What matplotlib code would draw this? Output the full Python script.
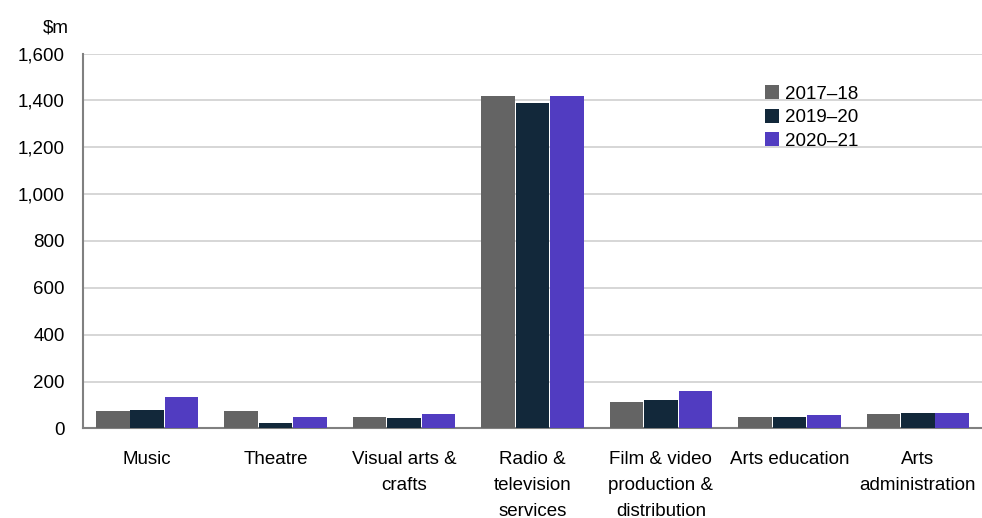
import matplotlib
matplotlib.use("Agg")
import matplotlib.pyplot as plt
from matplotlib.ticker import FuncFormatter
import numpy as np

plt.rcParams['font.family'] = ['Liberation Sans', 'DejaVu Sans']

categories = ["Music", "Theatre", "Visual arts &\ncrafts", "Radio &\ntelevision\nservices",
              "Film & video\nproduction &\ndistribution", "Arts education", "Arts\nadministration"]
series_names = ["2017\u201318", "2019\u201320", "2020\u201321"]
v_2017_18 = [73, 73, 50, 1420, 112, 50, 62]
v_2019_20 = [78, 23, 45, 1390, 122, 50, 68]
v_2020_21 = [133, 50, 62, 1420, 162, 56, 68]
colors = ["#646464", "#12283A", "#513CC1"]

fig = plt.figure(figsize=(9.82, 5.18), dpi=100)
ax = fig.add_axes([0.0845, 0.1728, 0.9155, 0.7239])

x = np.arange(len(categories))
w = 0.262
for i, (vals, name) in enumerate(zip([v_2017_18, v_2019_20, v_2020_21], series_names)):
    ax.bar(x + (i - 1) * (w + 0.006), vals, width=w, color=colors[i], label=name, zorder=3)

ax.set_xlim(-0.5, len(categories) - 0.5)
ax.set_ylim(0, 1600)
ax.set_yticks(range(0, 1601, 200))
ax.yaxis.set_major_formatter(FuncFormatter(lambda v, p: f"{int(v):,}"))
ax.grid(axis='y', color='#d0d0d0', linewidth=1.2, zorder=0)
ax.set_xticks(x)
ax.set_xticklabels(categories, fontsize=13.5, linespacing=1.7)
ax.tick_params(axis='y', labelsize=13.5, length=0, pad=13)
ax.tick_params(axis='x', length=0, pad=16)
for s in ['top', 'right']:
    ax.spines[s].set_visible(False)
ax.spines['left'].set_color('#808080')
ax.spines['bottom'].set_color('#808080')
ax.spines['left'].set_linewidth(1.5)
ax.spines['bottom'].set_linewidth(1.5)

fig.text(0.044, 0.945, "$m", fontsize=13.5, ha='left', va='center')

ax.legend(loc='upper left', bbox_to_anchor=(0.74, 0.96), frameon=False, fontsize=13.5,
          handlelength=0.75, handleheight=0.75, handletextpad=0.3, labelspacing=0.32)

fig.savefig("out.png", dpi=100)
